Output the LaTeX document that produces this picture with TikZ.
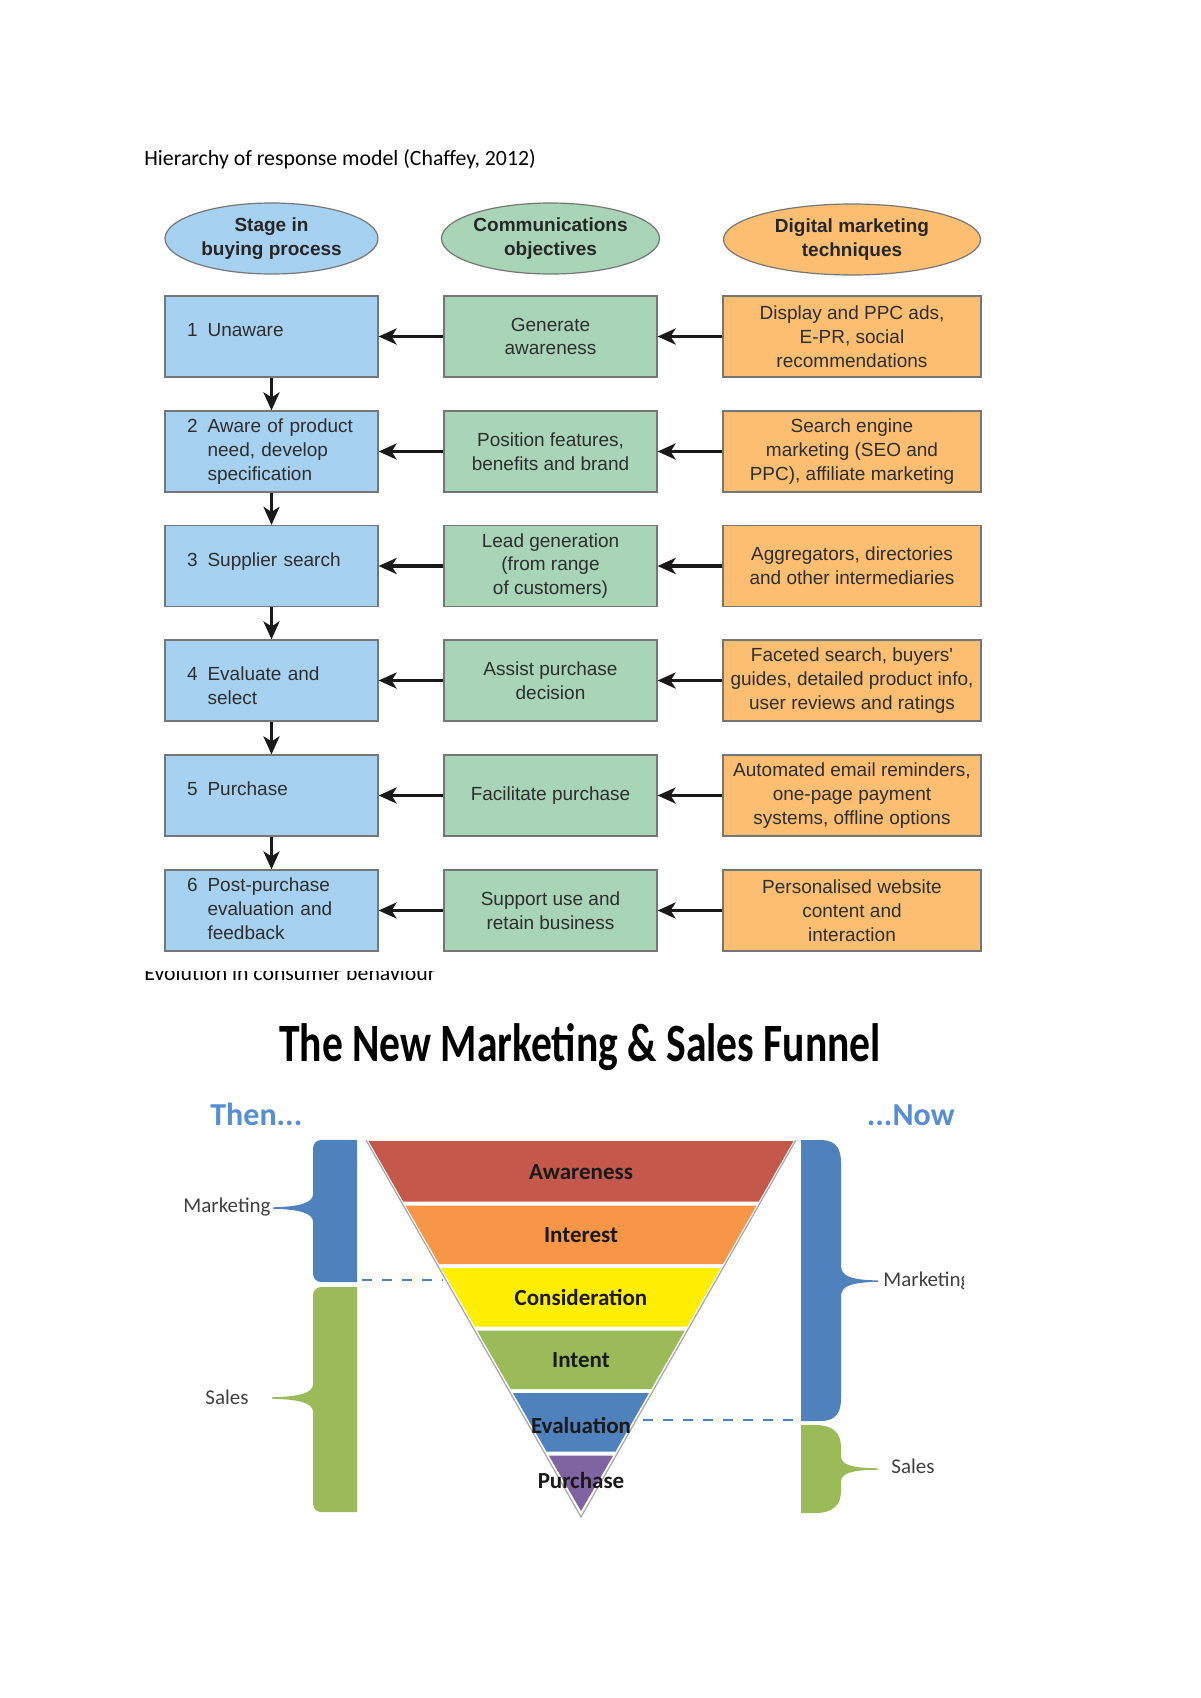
\documentclass[tikz,border=0pt]{standalone}
\usepackage{fontspec}
\usepackage{graphicx}
\setmainfont{Carlito}
\newfontfamily\helv{Liberation Sans}
\usetikzlibrary{shapes.geometric,arrows.meta}

\definecolor{stagefill}{HTML}{A7D1F0}
\definecolor{objfill}{HTML}{A8D4B7}
\definecolor{techfill}{HTML}{FCBF72}
\definecolor{boxline}{HTML}{767676}
\definecolor{boxtext}{HTML}{2E2E2E}
\definecolor{mktblue}{HTML}{4F81BD}
\definecolor{salegreen}{HTML}{9BBB59}
\definecolor{thenblue}{HTML}{558ED5}
\definecolor{awred}{HTML}{C4584A}
\definecolor{inorange}{HTML}{F79646}
\definecolor{coyellow}{HTML}{FFEE00}
\definecolor{pupurple}{HTML}{8064A2}
\definecolor{labelgray}{HTML}{404040}

\newcommand{\stagetext}[3][0pt]{\raisebox{#1}[\height][\depth]{\begin{tabular}{@{}l@{\hspace{5pt}}l@{}}#2&#3\end{tabular}}}

\begin{document}
\begin{tikzpicture}[x=0.5pt,y=0.5pt,
  cellbox/.style={draw=boxline,line width=0.6pt,minimum height=40.5pt,inner sep=0pt,
    font=\helv\fontsize{9.5}{11.9}\selectfont,text=boxtext,align=center},
  stagebox/.style={cellbox,fill=stagefill,minimum width=106.5pt,text width=84.5pt,inner xsep=11pt,align=left},
  objbox/.style={cellbox,fill=objfill,minimum width=106.5pt},
  techbox/.style={cellbox,fill=techfill,minimum width=129pt},
  headoval/.style={ellipse,draw=boxline,line width=0.6pt,inner sep=0pt,minimum height=35.5pt,
    font=\helv\bfseries\fontsize{9.5}{11.8}\selectfont,text=black!85,align=center},
  flow/.style={line width=1.6pt,draw=black!90,-{Stealth[length=9pt,width=8pt,inset=2.5pt]}},
  bandlabel/.style={font=\bfseries\fontsize{11.5}{13}\selectfont,text=black!90,inner sep=0pt},
  sidelabel/.style={font=\fontsize{10.5}{12}\selectfont,text=labelgray,inner sep=0pt},
  dashline/.style={draw=mktblue,line width=1.3pt,dash pattern=on 5pt off 5pt}]
\useasboundingbox (0,0) rectangle (1200,-1698);
\fill[white] (0,0) rectangle (1200,-1698);

% hierarchy of response model
\node[anchor=base west,inner sep=0pt,font=\fontsize{10.9}{13}\selectfont] (htitle) at (144,-165) {Hierarchy of response model (Chaffey, 2012)};

\node[headoval,fill=stagefill,minimum width=106.5pt] (hs) at (271.5,-238.5) {Stage in\\buying process};
\node[headoval,fill=objfill,minimum width=106.5pt] (ho) at (550.5,-238.5) {Communications\\objectives};
\node[headoval,fill=techfill,minimum width=128.5pt] (ht) at (852,-239.5) {Digital marketing\\techniques};

\node[stagebox] (s1) at (271.5,-336.5) {\stagetext[2.2pt]{1}{Unaware}};
\node[objbox] (o1) at (550.5,-336.5) {Generate\\awareness};
\node[techbox] (t1) at (852,-336.5) {Display and PPC ads,\\E-PR, social\\recommendations};

\node[stagebox] (s2) at (271.5,-451.5) {\stagetext{2}{Aware of product\\&need, develop\\&specification}};
\node[objbox] (o2) at (550.5,-451.5) {Position features,\\benefits and brand};
\node[techbox] (t2) at (852,-451.5) {Search engine\\marketing (SEO and\\PPC), affiliate marketing};

\node[stagebox] (s3) at (271.5,-566) {\stagetext[2.2pt]{3}{Supplier search}};
\node[objbox] (o3) at (550.5,-566) {Lead generation\\(from range\\of customers)};
\node[techbox] (t3) at (852,-566) {Aggregators, directories\\and other intermediaries};

\node[stagebox] (s4) at (271.5,-680.5) {\stagetext[-3.5pt]{4}{Evaluate and\\&select}};
\node[objbox] (o4) at (550.5,-680.5) {Assist purchase\\decision};
\node[techbox] (t4) at (852,-680.5) {Faceted search, buyers'\\guides, detailed product info,\\user reviews and ratings};

\node[stagebox] (s5) at (271.5,-795.5) {\stagetext[2.2pt]{5}{Purchase}};
\node[objbox] (o5) at (550.5,-795.5) {Facilitate purchase};
\node[techbox] (t5) at (852,-795.5) {Automated email reminders,\\one-page payment\\systems, offline options};

\node[stagebox] (s6) at (271.5,-910.5) {\stagetext{6}{Post-purchase\\&evaluation and\\&feedback}};
\node[objbox] (o6) at (550.5,-910.5) {Support use and\\retain business};
\node[techbox] (t6) at (852,-910.5) {Personalised website\\content and\\interaction};

\draw[flow] (o1) -- (s1);
\draw[flow] (t1) -- (o1);
\draw[flow] (o2) -- (s2);
\draw[flow] (t2) -- (o2);
\draw[flow] (o3) -- (s3);
\draw[flow] (t3) -- (o3);
\draw[flow] (o4) -- (s4);
\draw[flow] (t4) -- (o4);
\draw[flow] (o5) -- (s5);
\draw[flow] (t5) -- (o5);
\draw[flow] (o6) -- (s6);
\draw[flow] (t6) -- (o6);
\draw[flow] (s1) -- (s2);
\draw[flow] (s2) -- (s3);
\draw[flow] (s3) -- (s4);
\draw[flow] (s4) -- (s5);
\draw[flow] (s5) -- (s6);

% caption, top of it hidden
\begin{scope}
\clip (100,-971) rectangle (600,-995);
\node[anchor=base west,inner sep=0pt,font=\fontsize{10.9}{13}\selectfont] (evo) at (144,-980) {Evolution in consumer behaviour};
\end{scope}

% sales funnel
\node[anchor=base,inner sep=0pt,font=\bfseries\fontsize{27}{30}\selectfont] (ftitle) at (580,-1061) {\scalebox{0.77}[1]{The New Marketing \& Sales Funnel}};
\node[anchor=base west,inner sep=0pt,font=\bfseries\fontsize{16}{18}\selectfont,text=thenblue] (then) at (210,-1125) {Then...};
\node[anchor=base east,inner sep=0pt,font=\bfseries\fontsize{16}{18}\selectfont,text=thenblue] (now) at (955,-1125) {...Now};

\fill[awred] (368.5,-1141) -- (793.5,-1141) -- (758.8,-1201.5) -- (403.2,-1201.5) -- cycle;
\fill[inorange] (405.5,-1205.5) -- (756.5,-1205.5) -- (723,-1264) -- (439,-1264) -- cycle;
\fill[coyellow] (441.3,-1268) -- (720.7,-1268) -- (687.1,-1326.5) -- (474.9,-1326.5) -- cycle;
\fill[salegreen] (477.1,-1330.5) -- (684.9,-1330.5) -- (651.3,-1389) -- (510.7,-1389) -- cycle;
\fill[mktblue] (513,-1393) -- (649,-1393) -- (615.5,-1451.5) -- (546.5,-1451.5) -- cycle;
\fill[pupurple] (548.8,-1455.5) -- (613.2,-1455.5) -- (581,-1511) -- cycle;
\draw[black!35,line width=0.6pt] (366,-1140) -- (581,-1517) -- (796,-1140);

\node[bandlabel] (aw) at (581,-1172) {Awareness};
\node[bandlabel] (in) at (581,-1235) {Interest};
\node[bandlabel] (co) at (581,-1297) {Consideration};
\node[bandlabel] (it) at (581,-1360) {Intent};
\node[bandlabel] (ev) at (581,-1425) {Evaluation};
\node[bandlabel] (pu) at (581,-1480) {Purchase};

% then: brackets on the left
\fill[mktblue] (357,-1140) -- (321,-1140) .. controls (316,-1140) and (313,-1144) .. (313,-1149) -- (313,-1194) .. controls (313,-1203) and (300,-1206.5) .. (273,-1207.3) -- (273,-1208.7) .. controls (300,-1209.5) and (313,-1213) .. (313,-1222) -- (313,-1273) .. controls (313,-1278) and (316,-1282) .. (321,-1282) -- (357,-1282) -- cycle;
\fill[salegreen] (357,-1287) -- (321,-1287) .. controls (316,-1287) and (313,-1291) .. (313,-1296) -- (313,-1384) .. controls (313,-1393) and (300,-1396.5) .. (272,-1397.3) -- (272,-1398.7) .. controls (300,-1399.5) and (313,-1403) .. (313,-1412) -- (313,-1503) .. controls (313,-1508) and (316,-1512) .. (321,-1512) -- (357,-1512) -- cycle;
\node[sidelabel,anchor=east] (mthen) at (271,-1207) {Marketing};
\node[sidelabel,anchor=east] (sthen) at (249,-1397) {Sales};
\coordinate (dl1) at (362,-1280);
\coordinate (dl2) at (443,-1280);
\draw[dashline] (dl1) -- (dl2);

% now: brackets on the right
\fill[mktblue] (801,-1140) -- (821,-1140) .. controls (835,-1140) and (841,-1148) .. (841,-1162) -- (841,-1265) .. controls (841,-1276) and (850,-1280) .. (878,-1280.4) -- (878,-1281.8) .. controls (850,-1282.5) and (841,-1286) .. (841,-1297) -- (841,-1399) .. controls (841,-1413) and (835,-1421) .. (821,-1421) -- (801,-1421) -- cycle;
\fill[salegreen] (801,-1425) -- (815,-1425) .. controls (833,-1425) and (841,-1433) .. (841,-1447) -- (841,-1456) .. controls (841,-1465) and (852,-1468) .. (878,-1468.3) -- (878,-1469.7) .. controls (852,-1470) and (841,-1473) .. (841,-1482) -- (841,-1491) .. controls (841,-1505) and (833,-1513) .. (815,-1513) -- (801,-1513) -- cycle;
\begin{scope}
\clip (880,-1250) rectangle (963,-1310);
\node[sidelabel,anchor=west] (mnow) at (883,-1281) {Marketing};
\end{scope}
\node[sidelabel,anchor=west] (snow) at (891,-1466) {Sales};
\coordinate (dr1) at (643,-1420);
\coordinate (dr2) at (799,-1420);
\draw[dashline] (dr1) -- (dr2);
\end{tikzpicture}
\end{document}
